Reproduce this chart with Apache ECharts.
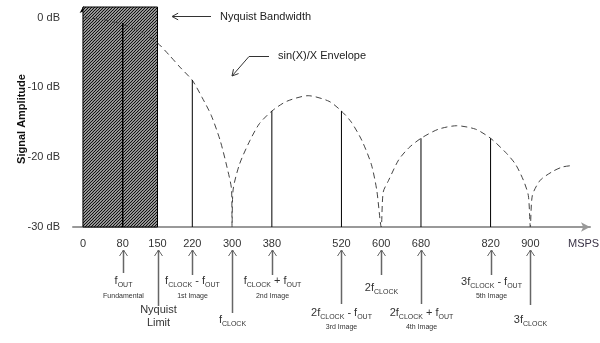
<!DOCTYPE html>
<html>
<head>
<meta charset="utf-8">
<script src="https://cdn.jsdelivr.net/npm/echarts@6/dist/echarts.min.js"></script>
<style>
html,body{margin:0;padding:0;background:#fff;}
#chart{width:600px;height:343px;}
</style>
</head>
<body>
<div id="chart"></div>
<script>
// ---- data ----
const xTickValues = [0, 80, 150, 220, 300, 380, 520, 600, 680, 820, 900];
const yTickValues = [0, -10, -20, -30];
const nyquistBand = [0, 150];
// sin(x)/x envelope: [MSPS, dB]
const envelopeX = [0, 40, 80, 120, 150, 175, 195, 220, 240, 258, 276, 290, 299, 300,
  302, 315, 336, 355, 380, 410, 453, 495, 520, 540, 561, 580, 591, 600,
  604, 615, 635, 655, 680, 715, 752, 790, 820, 850, 870, 886, 896, 900,
  904, 920, 946, 965, 984];
const envelopeDb = [0, -0.3, -1.0, -2.2, -3.65, -5.5, -7.1, -9.0, -11.5, -14, -17.6, -21.5, -24.7, -30,
  -24.7, -21, -17.6, -15.2, -13.4, -12, -11.2, -12, -13.4, -15, -17.6, -21, -24.7, -30,
  -25, -23.3, -20.4, -18.7, -17.3, -16, -15.5, -16, -17.3, -19.3, -21, -23.3, -25.5, -30,
  -25.5, -23.3, -22, -21.4, -21.2];
// spectral lines
const lineX = [80, 220, 380, 520, 680, 820];
const lineDb = [-0.8, -8.95, -13.4, -13.4, -17.3, -17.3];
// annotations under the axis
const annoX = [80, 150, 220, 300, 380, 520, 600, 680, 820, 900];
const annoMain = [
  'f{s|OUT}', 'Nyquist\nLimit', 'f{s|CLOCK} - f{s|OUT}', 'f{s|CLOCK}', 'f{s|CLOCK} + f{s|OUT}',
  '2f{s|CLOCK} - f{s|OUT}', '2f{s|CLOCK}', '2f{s|CLOCK} + f{s|OUT}', '3f{s|CLOCK} - f{s|OUT}', '3f{s|CLOCK}'
];
const annoSmall = ['Fundamental', '', '1st Image', '', '2nd Image', '3rd Image', '', '4th Image', '5th Image', ''];

// ---- layout (pixel offsets below axis) ----
const annoLayout = [
  {shaft: 46, text: 54, small: 69},
  {shaft: 79, text: 89, small: 0},
  {shaft: 48, text: 54, small: 69},
  {shaft: 86, text: 93, small: 0},
  {shaft: 48, text: 54, small: 69},
  {shaft: 77, text: 86, small: 100},
  {shaft: 48, text: 61, small: 0},
  {shaft: 77, text: 86, small: 100},
  {shaft: 48, text: 55, small: 69},
  {shaft: 78, text: 93, small: 0}
];

const FONT = '"Liberation Sans", Arial, sans-serif';
const Y_MIN = -30, Y_MAX = 1.5, X_MIN = -20, X_MAX = 1020;

// hatch pattern
const pat = document.createElement('canvas');
pat.width = 3; pat.height = 3;
const pc = pat.getContext('2d');
pc.fillStyle = '#fff'; pc.fillRect(0, 0, 3, 3);
pc.strokeStyle = '#111'; pc.lineWidth = 1.3;
pc.beginPath();
pc.moveTo(-1, 4); pc.lineTo(4, -1);
pc.moveTo(-1, 1); pc.lineTo(1, -1);
pc.moveTo(2, 4); pc.lineTo(4, 2);
pc.stroke();

const chart = echarts.init(document.getElementById('chart'), null, {renderer: 'canvas'});

const envData = envelopeX.map((x, i) => [x, envelopeDb[i]]);
const stemData = lineX.map((x, i) => [x, lineDb[i]]);
const annoData = annoX.map(x => [x, Y_MIN]);

const richMain = {
  b: {},
  s: {fontSize: 7, lineHeight: 8, verticalAlign: 'bottom', fontFamily: FONT, fill: '#333'}
};

function arrowHead(tip, from, len, ang) {
  const dx = from[0] - tip[0], dy = from[1] - tip[1];
  const d = Math.hypot(dx, dy); const ux = dx / d, uy = dy / d;
  const r = (a) => [tip[0] + len * (ux * Math.cos(a) - uy * Math.sin(a)), tip[1] + len * (ux * Math.sin(a) + uy * Math.cos(a))];
  return [r(ang), tip, r(-ang)];
}

chart.setOption({
  animation: false,
  backgroundColor: '#fff',
  grid: {left: 73, right: 10, top: 7, bottom: 116, containLabel: false},
  xAxis: {
    type: 'value', min: X_MIN, max: X_MAX,
    axisLine: {show: true, onZero: false, lineStyle: {color: '#999', width: 2}, symbol: ['none', 'arrow'], symbolSize: [7, 9]},
    axisTick: {show: false},
    splitLine: {show: false},
    axisLabel: {customValues: xTickValues, margin: 11, fontSize: 11, color: '#333', fontFamily: FONT}
  },
  yAxis: {
    type: 'value', min: Y_MIN, max: Y_MAX,
    axisLine: {show: true, onZero: true, lineStyle: {color: '#000', width: 1}, symbol: ['none', 'arrow'], symbolSize: [5, 6]},
    axisTick: {show: false},
    splitLine: {show: false},
    axisLabel: {customValues: yTickValues, margin: 13, fontSize: 11, color: '#333', fontFamily: FONT,
      formatter: v => v + ' dB'}
  },
  series: [
    {
      type: 'line', data: envData, showSymbol: false, smooth: 0.25, z: 3,
      lineStyle: {color: '#444', width: 1, type: [6, 4]},
      markArea: {
        silent: true,
        itemStyle: {color: {image: pat, repeat: 'repeat'}, borderColor: '#000', borderWidth: 1},
        data: [[{xAxis: nyquistBand[0], yAxis: Y_MIN}, {xAxis: nyquistBand[1], yAxis: Y_MAX}]]
      }
    },
    {
      type: 'custom', data: stemData, z: 4,
      renderItem: (params, api) => {
        const a = api.coord([api.value(0), Y_MIN]);
        const b = api.coord([api.value(0), api.value(1)]);
        return {type: 'line', shape: {x1: a[0], y1: a[1], x2: b[0], y2: b[1]},
          style: {stroke: '#000', lineWidth: params.dataIndex === 0 ? 1.5 : 1}};
      }
    },
    {
      type: 'custom', data: annoData, z: 5, clip: false,
      renderItem: (params, api) => {
        const i = params.dataIndex;
        const L = annoLayout[i];
        const base = api.coord([api.value(0), Y_MIN]);
        const x = Math.round(base[0]) + 0.5, y0 = base[1];
        const tipY = y0 + 23;
        const children = [
          {type: 'line', shape: {x1: x, y1: tipY, x2: x, y2: y0 + L.shaft}, style: {stroke: '#666', lineWidth: 1.5}},
          {type: 'polyline', shape: {points: [[x - 4, tipY + 6], [x, tipY], [x + 4, tipY + 6]]}, style: {stroke: '#666', fill: null, lineWidth: 1}},
          {type: 'text', x: x, y: y0 + L.text, style: {
            text: annoMain[i], rich: richMain, align: 'center', verticalAlign: 'middle',
            fontSize: 11, lineHeight: i === 1 ? 13 : 16, fontFamily: FONT, fill: '#333'}}
        ];
        if (annoSmall[i]) {
          children.push({type: 'text', x: x, y: y0 + L.small, style: {
            text: annoSmall[i], align: 'center', verticalAlign: 'middle', fontSize: 7, fontFamily: FONT, fill: '#333'}});
        }
        return {type: 'group', children: children};
      }
    }
  ],
  graphic: [
    {type: 'text', left: 220, top: 11, style: {text: 'Nyquist Bandwidth', fontSize: 11, fontFamily: FONT, fill: '#222'}},
    {type: 'line', shape: {x1: 173, y1: 16.5, x2: 211, y2: 16.5}, style: {stroke: '#333', lineWidth: 1}},
    {type: 'polyline', shape: {points: arrowHead([172, 16.5], [211, 16.5], 7, 0.5)}, style: {stroke: '#333', fill: null, lineWidth: 1}},
    {type: 'text', left: 278, top: 50, style: {text: 'sin(X)/X Envelope', fontSize: 11, fontFamily: FONT, fill: '#222'}},
    {type: 'polyline', shape: {points: [[269, 56.5], [249, 56.5], [232, 76]]}, style: {stroke: '#333', fill: null, lineWidth: 1}},
    {type: 'polyline', shape: {points: arrowHead([232, 76], [249, 56.5], 7, 0.5)}, style: {stroke: '#333', fill: null, lineWidth: 1}},
    {type: 'text', left: 568, top: 238, style: {text: 'MSPS', fontSize: 11, fontFamily: FONT, fill: '#3a3346'}},
    {type: 'text', x: 22, y: 119, rotation: Math.PI / 2, style: {text: 'Signal Amplitude', fontSize: 11, fontWeight: 'bold', fontFamily: FONT, fill: '#111', align: 'center', verticalAlign: 'middle'}}
  ]
});
</script>
</body>
</html>
